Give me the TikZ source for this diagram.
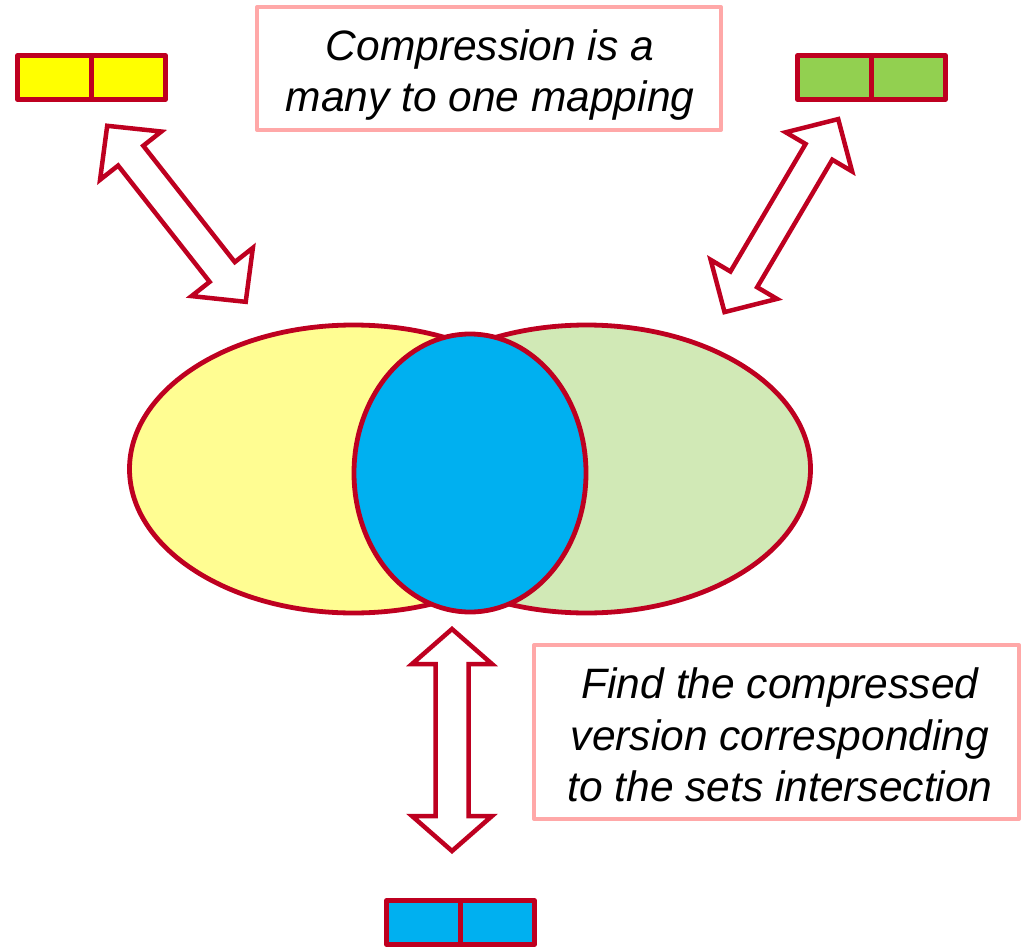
\documentclass[tikz,border=0pt]{standalone}
\usepackage{fontspec}
\setmainfont{Liberation Sans}
\usetikzlibrary{shapes.geometric}

\definecolor{edgered}{RGB}{190,0,32}
\definecolor{boxpink}{RGB}{255,168,168}
\definecolor{setyellow}{RGB}{255,253,146}
\definecolor{setgreen}{RGB}{209,233,182}
\definecolor{cellyellow}{RGB}{255,255,0}
\definecolor{cellgreen}{RGB}{146,208,80}
\definecolor{cellblue}{RGB}{0,176,240}

% hollow double-headed block arrow along the local x axis
% #1 start point, #2 rotation, #3 length, #4 head length, #5 half head width, #6 half shaft width
\newcommand{\hollowarrow}[6]{%
  \begin{scope}[shift={#1}, rotate=#2]
    \draw[blockarrow] (0,0) -- (#4,#5) -- (#4,#6) -- (#3-#4,#6) -- (#3-#4,#5)
      -- (#3,0) -- (#3-#4,-#5) -- (#3-#4,-#6) -- (#4,-#6) -- (#4,-#5) -- cycle;
  \end{scope}}

\tikzset{
  cell/.style={draw=edgered, line width=4.5pt, line join=round, rectangle,
    minimum width=74pt, minimum height=44pt, inner sep=0pt},
  setshape/.style={draw=edgered, line width=4.8pt, ellipse, inner sep=0pt},
  notebox/.style={draw=boxpink, line width=4pt, line join=round, rectangle,
    fill=white, inner sep=0pt},
  notetext/.style={align=center, inner sep=0pt,
    font=\fontsize{42.5}{51.5}\selectfont\itshape},
  blockarrow/.style={draw=edgered, fill=white, line width=4.5pt, line join=miter},
}

\begin{document}
\begin{tikzpicture}[x=1pt, y=-1pt]
  \useasboundingbox (0,0) rectangle (1022,947);

  % the two sets and their intersection
  \node[setshape, fill=setyellow, minimum width=448pt, minimum height=288pt] (setA) at (353.5,469) {};
  \node[setshape, fill=setgreen, minimum width=448pt, minimum height=288pt] (setB) at (586.5,469) {};
  \node[setshape, fill=cellblue, minimum width=232pt, minimum height=278pt] (inter) at (470,473) {};

  % compressed codes
  \node[cell, fill=cellyellow] (ya) at (54.5,77.5) {};
  \node[cell, fill=cellyellow] (yb) at (128.5,77.5) {};
  \node[cell, fill=cellgreen] (ga) at (834.5,77.5) {};
  \node[cell, fill=cellgreen] (gb) at (908.5,77.5) {};
  \node[cell, fill=cellblue] (ba) at (423.5,922.5) {};
  \node[cell, fill=cellblue] (bb) at (497.5,922.5) {};

  % mapping arrows
  \hollowarrow{(107.2,125.8)}{-51.8}{224}{38}{39}{16}
  \hollowarrow{(838.2,119.1)}{-120.5}{224}{38}{38.5}{15.5}
  \hollowarrow{(452,629)}{-90}{222}{35}{40}{16.5}

  % notes
  \node[notebox, minimum width=464pt, minimum height=123pt] (topnote) at (489,68.5) {};
  \node[notetext] (toptext) at (490,75) {Compression is a\\many to one mapping};
  \node[notebox, minimum width=485pt, minimum height=174pt] (botnote) at (776.5,732) {};
  \node[notetext] (bottext) at (780,735) {Find the compressed\\version corresponding\\to the sets intersection};
\end{tikzpicture}
\end{document}
